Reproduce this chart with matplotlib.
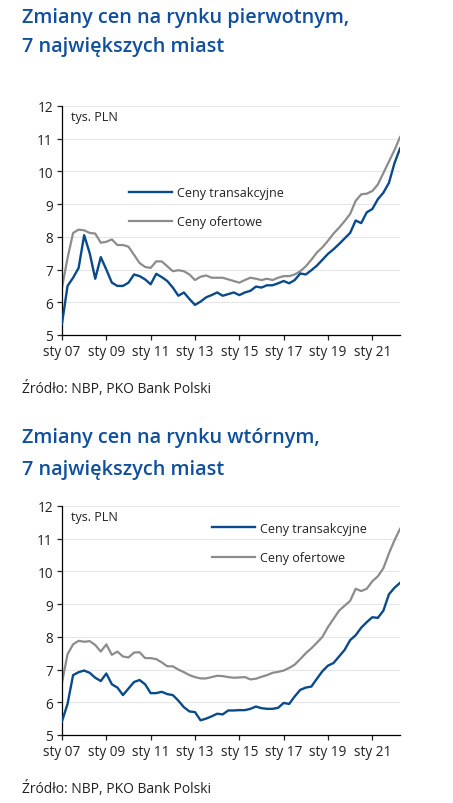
import matplotlib
matplotlib.use("Agg")
import matplotlib.pyplot as plt
import numpy as np

# quarterly data, 2007Q1 .. 2022Q2 (tys. PLN per m2)
tick_labels = ["sty 07", "sty 09", "sty 11", "sty 13", "sty 15", "sty 17", "sty 19", "sty 21"]

prim_trans = [5.35, 6.5, 6.75, 7.05, 8.05, 7.5, 6.72, 7.38,
              7.0, 6.6, 6.5, 6.5, 6.6, 6.85, 6.8, 6.7,
              6.55, 6.87, 6.77, 6.65, 6.45, 6.2, 6.3, 6.1,
              5.92, 6.02, 6.15, 6.22, 6.3, 6.2, 6.25, 6.3,
              6.22, 6.3, 6.35, 6.48, 6.45, 6.52, 6.52, 6.58,
              6.65, 6.58, 6.68, 6.88, 6.85, 6.98, 7.12, 7.3,
              7.48, 7.62, 7.78, 7.95, 8.12, 8.5, 8.42, 8.75,
              8.85, 9.15, 9.35, 9.65, 10.25, 10.7]
prim_offer = [6.45, 7.35, 8.12, 8.22, 8.2, 8.12, 8.1, 7.82,
              7.85, 7.92, 7.75, 7.75, 7.7, 7.45, 7.2, 7.08,
              7.05, 7.25, 7.25, 7.1, 6.95, 6.98, 6.95, 6.85,
              6.68, 6.78, 6.82, 6.75, 6.75, 6.75, 6.7, 6.65,
              6.6, 6.68, 6.75, 6.72, 6.68, 6.72, 6.68, 6.75,
              6.8, 6.8, 6.85, 6.95, 7.1, 7.3, 7.52, 7.68,
              7.88, 8.1, 8.28, 8.48, 8.7, 9.1, 9.3, 9.32,
              9.4, 9.6, 9.95, 10.3, 10.65, 11.05]

sec_trans = [5.42, 5.95, 6.83, 6.92, 6.97, 6.9, 6.75, 6.65,
             6.88, 6.55, 6.45, 6.22, 6.42, 6.62, 6.68, 6.55,
             6.28, 6.28, 6.32, 6.25, 6.22, 6.05, 5.85, 5.72,
             5.7, 5.45, 5.5, 5.57, 5.65, 5.63, 5.75, 5.75,
             5.76, 5.76, 5.8, 5.87, 5.82, 5.8, 5.8, 5.83,
             5.98, 5.95, 6.18, 6.38, 6.45, 6.48, 6.72, 6.95,
             7.12, 7.2, 7.4, 7.6, 7.9, 8.05, 8.28, 8.45,
             8.6, 8.58, 8.8, 9.3, 9.5, 9.65]
sec_offer = [6.6, 7.47, 7.77, 7.88, 7.85, 7.87, 7.75, 7.55,
             7.77, 7.45, 7.55, 7.4, 7.37, 7.52, 7.53, 7.35,
             7.35, 7.32, 7.22, 7.1, 7.1, 7.0, 6.92, 6.83,
             6.77, 6.73, 6.73, 6.77, 6.81, 6.8, 6.77, 6.75,
             6.76, 6.77, 6.7, 6.72, 6.78, 6.83, 6.9, 6.93,
             6.97, 7.05, 7.15, 7.32, 7.5, 7.65, 7.82, 8.0,
             8.3, 8.55, 8.8, 8.95, 9.1, 9.47, 9.4, 9.47,
             9.7, 9.85, 10.1, 10.55, 10.95, 11.3]

BLUE = "#094a8a"
GREY = "#8c8c8c"
TITLE = "#0f4f9e"
TXT = "#222222"

plt.rcParams["font.family"] = ["Open Sans", "DejaVu Sans"]

W, H = 453, 804
fig = plt.figure(figsize=(W / 100, H / 100), dpi=100)


def fy(py):
    return 1 - py / H


def panel(top_px, trans, offer, title, title_y, src_y, leg_xy):
    for line, ty in zip(title, title_y):
        fig.text(22 / W, fy(ty), line, color=TITLE, fontsize=14.3,
                 fontweight="semibold", va="baseline")
    fig.text(22 / W, fy(src_y), "Źródło: NBP, PKO Bank Polski", color=TXT,
             fontsize=10, va="baseline")

    ax = fig.add_axes([62 / W, fy(top_px + 229), 338 / W, 229 / H])
    x = np.arange(len(trans))
    ax.plot(x, trans, color=BLUE, lw=1.7, label="Ceny transakcyjne", zorder=3)
    ax.plot(x, offer, color=GREY, lw=1.6, label="Ceny ofertowe", zorder=2)
    ax.set_xlim(0, len(trans) - 1)
    ax.set_ylim(5, 12)
    ax.set_yticks(range(5, 13))
    ax.set_xticks(range(0, len(trans), 8))
    ax.set_xticklabels(tick_labels)
    ax.tick_params(axis="both", labelsize=9.8, colors=TXT, length=3.5,
                   width=0.9, pad=3)
    ax.grid(axis="y", color="#e6e6e6", lw=0.8)
    ax.set_axisbelow(True)
    for s in ("top", "right"):
        ax.spines[s].set_visible(False)
    for s in ("left", "bottom"):
        ax.spines[s].set_color("black")
        ax.spines[s].set_linewidth(0.9)
    ax.text(0.027, 0.955, "tys. PLN", transform=ax.transAxes, fontsize=9,
            color=TXT, va="center")
    ax.legend(loc="upper left", bbox_to_anchor=leg_xy, frameon=False,
              fontsize=9, borderpad=0, handlelength=3.4, handletextpad=0.45,
              labelspacing=1.3, labelcolor=TXT)
    return ax


panel(107, prim_trans, prim_offer,
      ("Zmiany cen na rynku pierwotnym,", "7 największych miast"),
      (23, 52), 393, (0.18, 0.678))
panel(507, sec_trans, sec_offer,
      ("Zmiany cen na rynku wtórnym,", "7 największych miast"),
      (443, 475), 793, (0.426, 0.958))

fig.savefig("out.png", dpi=100)
